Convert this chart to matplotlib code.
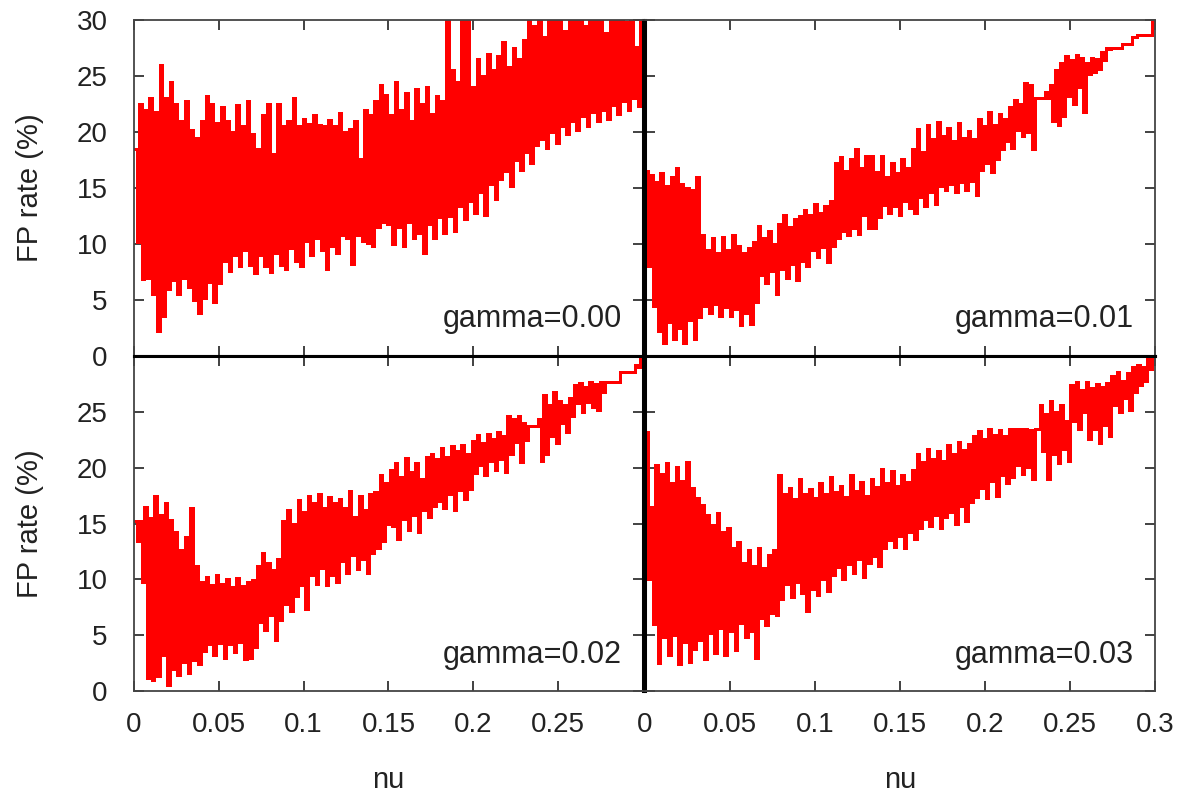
import numpy as np
import matplotlib
matplotlib.use('Agg')
import matplotlib.pyplot as plt

#%% data (upper / lower peaks of the noisy curve)

nu = np.linspace(0, 0.3, 200)
gammas = ['0.00', '0.01', '0.02', '0.03']

hi_g00 = [18.5, 22.5, 22.0, 23.0, 21.8, 26.0, 23.0, 24.5, 22.5, 21.0,
          22.8, 20.2, 19.5, 21.0, 23.2, 22.5, 20.8, 22.2, 21.0, 20.0,
          22.4, 20.5, 22.8, 19.8, 18.5, 21.5, 22.5, 18.0, 22.5, 20.5,
          21.0, 23.0, 20.5, 21.2, 20.7, 21.5, 20.6, 20.5, 21.1, 20.5,
          21.7, 20.0, 20.3, 21.0, 17.6, 22.0, 21.5, 22.8, 24.2, 23.3,
          21.5, 24.5, 22.0, 23.5, 21.0, 23.8, 22.5, 24.0, 21.6, 23.2,
          22.8, 31.0, 25.5, 24.5, 31.0, 30.5, 24.0, 26.5, 25.0, 27.0,
          25.5, 26.8, 28.0, 25.8, 27.5, 26.5, 28.2, 31.0, 29.5, 31.0,
          28.5, 31.0, 30.5, 31.0, 29.0, 31.0, 30.2, 31.0, 29.5, 31.0,
          30.5, 31.0, 28.8, 31.0, 30.0, 31.0, 29.8, 31.0, 27.6, 31.0]
lo_g00 = [10.2, 6.9, 7.0, 5.5, 2.2, 3.6, 6.0, 6.8, 5.5, 7.0,
          6.2, 5.0, 3.8, 5.2, 6.6, 4.8, 6.5, 8.5, 7.6, 9.0,
          8.0, 9.5, 8.1, 7.4, 9.0, 8.0, 7.5, 9.2, 8.1, 7.8,
          9.6, 8.5, 8.0, 10.3, 9.0, 10.5, 9.5, 7.8, 9.8, 9.2,
          10.8, 10.5, 8.2, 10.8, 10.3, 10.1, 9.8, 11.5, 12.0, 11.8,
          10.0, 11.5, 9.8, 12.0, 10.5, 11.0, 9.2, 11.8, 10.5, 12.4,
          11.0, 12.5, 11.2, 13.4, 12.2, 13.8, 12.8, 14.6, 12.6, 15.4,
          14.0, 15.8, 16.5, 15.2, 17.5, 16.6, 18.2, 17.2, 18.8, 19.4,
          18.6, 20.0, 19.0, 20.5, 19.8, 21.0, 20.2, 21.4, 20.5, 21.8,
          21.0, 22.0, 21.2, 22.4, 21.6, 22.8, 22.0, 23.0, 22.3, 22.6]

hi_g01 = [16.5, 16.2, 15.5, 16.3, 15.2, 16.0, 16.8, 15.4, 15.0, 14.8,
          16.0, 10.8, 9.5, 10.5, 9.2, 10.6, 9.5, 10.8, 9.8, 9.2,
          9.6, 10.2, 11.6, 10.5, 11.2, 10.0, 11.8, 12.6, 11.5, 12.2,
          12.5, 13.0, 12.6, 13.6, 12.8, 13.4, 13.8, 17.2, 17.8, 16.5,
          17.6, 18.5, 16.8, 17.9, 17.9, 16.4, 17.9, 16.0, 17.2, 16.3,
          17.6, 16.8, 18.5, 20.3, 18.2, 20.6, 19.4, 20.9, 19.6, 20.4,
          19.2, 20.8, 19.5, 20.1, 19.4, 21.2, 20.5, 21.8, 20.6, 21.6,
          21.2, 22.2, 22.9, 22.5, 24.4, 24.2, 23.0, 23.0, 23.6, 24.2,
          25.5, 26.2, 26.8, 26.4, 26.9, 26.6, 26.2, 26.6, 26.5, 27.1,
          27.5, 27.5, 27.5, 27.9, 27.9, 28.5, 28.7, 28.7, 28.7, 30.0]
lo_g01 = [8.0, 4.5, 2.2, 1.2, 3.0, 1.5, 2.5, 1.2, 3.2, 1.5,
          3.5, 4.5, 3.8, 4.6, 3.6, 4.4, 3.6, 4.2, 2.8, 3.8,
          2.9, 4.8, 7.2, 6.5, 7.6, 5.5, 7.8, 7.0, 8.2, 6.8,
          8.5, 8.0, 9.5, 8.8, 9.7, 8.4, 9.8, 10.5, 11.2, 10.8,
          11.4, 10.9, 12.6, 11.4, 11.4, 12.4, 13.5, 12.8, 13.4, 12.6,
          13.8, 13.2, 12.8, 14.2, 13.4, 14.6, 13.6, 15.2, 14.8, 15.4,
          14.6, 15.5, 14.8, 15.6, 14.4, 16.6, 17.2, 16.4, 17.6, 18.5,
          19.2, 18.6, 20.2, 19.6, 20.0, 18.5, 23.0, 23.0, 23.0, 21.0,
          20.6, 21.4, 23.2, 22.5, 24.0, 21.8, 25.2, 25.4, 25.6, 26.4,
          27.4, 27.5, 27.5, 27.9, 27.9, 28.5, 28.7, 28.7, 28.7, 29.5]

hi_g02 = [15.2, 15.2, 16.5, 15.5, 17.5, 15.8, 16.8, 15.3, 14.2, 12.6,
          13.8, 16.4, 11.2, 9.8, 10.2, 9.5, 10.4, 9.6, 10.0, 9.3,
          10.1, 9.4, 9.8, 9.9, 11.2, 12.4, 11.5, 10.8, 11.8, 15.2,
          16.2, 15.0, 17.1, 16.0, 17.5, 16.8, 17.6, 16.4, 17.4, 16.8,
          17.2, 16.4, 17.9, 15.6, 17.5, 16.2, 17.6, 17.8, 19.3, 18.6,
          19.8, 20.4, 19.2, 20.9, 19.6, 20.4, 19.0, 21.0, 21.2, 20.8,
          21.8, 21.0, 21.9, 21.5, 22.0, 21.2, 22.4, 22.9, 22.2, 23.0,
          22.6, 23.2, 22.8, 24.6, 24.4, 24.6, 24.0, 23.7, 23.7, 24.4,
          26.5, 25.6, 26.8, 26.0, 25.6, 26.2, 27.4, 27.6, 27.2, 27.7,
          27.5, 27.7, 27.7, 27.7, 27.7, 28.6, 28.6, 28.6, 29.2, 30.0]
lo_g02 = [13.4, 9.8, 1.2, 1.0, 1.3, 3.2, 0.5, 2.0, 1.4, 2.6,
          1.6, 2.8, 2.4, 3.6, 4.2, 3.2, 4.3, 3.0, 4.2, 3.5,
          4.4, 2.9, 3.0, 3.9, 6.2, 5.5, 6.8, 4.6, 6.4, 7.8,
          7.2, 8.5, 9.5, 7.3, 10.4, 9.6, 11.0, 9.5, 10.4, 9.8,
          11.6, 10.6, 12.2, 10.9, 11.8, 10.6, 12.4, 12.8, 13.4, 15.0,
          14.8, 13.6, 15.4, 14.4, 15.8, 14.2, 16.2, 15.6, 16.6, 17.0,
          16.4, 17.6, 16.2, 18.0, 17.2, 18.1, 19.5, 20.2, 19.3, 20.6,
          19.8, 20.8, 19.6, 21.2, 22.3, 20.5, 22.5, 23.7, 23.7, 20.6,
          21.2, 22.8, 22.2, 24.0, 23.2, 24.6, 25.8, 25.0, 25.9, 25.4,
          25.2, 26.8, 27.7, 27.7, 27.7, 28.6, 28.6, 28.6, 29.0, 30.0]

hi_g03 = [23.2, 16.5, 20.2, 19.4, 20.4, 18.6, 20.1, 18.8, 20.5, 18.2,
          17.3, 16.7, 15.8, 14.9, 15.9, 14.2, 14.6, 12.8, 13.3, 11.5,
          12.6, 11.2, 12.8, 11.0, 12.2, 12.6, 19.3, 17.6, 18.2, 17.2,
          19.0, 17.6, 18.1, 17.3, 18.6, 17.6, 19.2, 17.8, 18.4, 17.4,
          19.3, 17.9, 18.7, 17.5, 19.0, 18.3, 19.9, 18.6, 19.7, 18.4,
          19.3, 18.7, 19.8, 21.2, 20.5, 21.7, 20.8, 21.5, 20.6, 22.0,
          21.2, 22.3, 21.6, 22.1, 22.8, 23.3, 22.6, 23.5, 22.9, 23.4,
          22.8, 23.5, 23.5, 23.5, 23.5, 23.4, 23.5, 25.6, 24.8, 26.0,
          25.0, 25.6, 24.2, 27.4, 27.7, 27.0, 27.7, 27.1, 27.5, 27.2,
          27.6, 28.2, 28.6, 27.8, 28.5, 29.0, 29.2, 29.0, 30.0, 30.0]
lo_g03 = [10.0, 6.0, 2.5, 4.8, 3.2, 5.0, 2.4, 4.4, 2.6, 3.8,
          4.6, 2.9, 5.2, 3.4, 5.6, 3.2, 5.4, 3.7, 6.1, 4.8,
          5.4, 3.0, 6.5, 5.9, 7.0, 6.8, 8.2, 9.6, 8.4, 9.8,
          8.8, 7.2, 9.1, 8.6, 10.0, 9.0, 10.4, 11.1, 10.0, 11.4,
          10.6, 11.8, 10.2, 11.5, 12.1, 11.2, 12.8, 13.5, 12.9, 13.9,
          12.8, 14.2, 13.6, 14.6, 15.4, 14.8, 15.8, 14.6, 15.6, 16.0,
          15.0, 16.6, 15.2, 16.9, 17.4, 18.2, 17.3, 18.8, 17.5, 19.3,
          18.6, 19.2, 20.2, 19.4, 20.1, 19.0, 23.5, 21.5, 19.0, 21.2,
          20.4, 21.7, 20.6, 24.2, 23.5, 25.0, 22.6, 23.5, 22.2, 23.8,
          22.8, 25.6, 25.0, 26.2, 25.2, 26.8, 27.4, 27.8, 28.8, 30.0]

his = [hi_g00, hi_g01, hi_g02, hi_g03]
los = [lo_g00, lo_g01, lo_g02, lo_g03]

#%% figure

plt.rcParams['font.family'] = ['Liberation Sans', 'DejaVu Sans']
plt.rcParams['text.color'] = '#222222'
plt.rcParams['path.simplify'] = False

W, H = 1179, 797
fig = plt.figure(figsize=(W / 100, H / 100), dpi=100)

# pixel boxes: (left, right, top, bottom)
boxes = [(134, 643, 20, 356), (645, 1155, 20, 356),
         (134, 643, 356, 691), (645, 1155, 356, 691)]

for i, (l, r, t, b) in enumerate(boxes):
    ax = fig.add_axes([l / W, 1 - b / H, (r - l) / W, (b - t) / H])
    y = np.column_stack([his[i], los[i]]).ravel()
    ax.plot(nu, y, color='#ff0000', lw=1.8, drawstyle='steps-post',
            antialiased=False)
    ax.set_xlim(0, 0.3)
    ax.set_ylim(0, 30)
    ax.set_xticks([0, 0.05, 0.1, 0.15, 0.2, 0.25, 0.3])
    ax.set_yticks([0, 5, 10, 15, 20, 25, 30])
    ax.tick_params(direction='in', top=True, right=True, length=7,
                   width=1.3, color='#333333', labelsize=20,
                   labelcolor='#222222')
    ax.tick_params(axis='x', pad=15)
    ax.tick_params(axis='y', pad=19)

    top_row = i < 2
    left_col = i % 2 == 0

    if top_row:
        ax.set_xticklabels([])
    elif left_col:
        ax.set_xticklabels(['0', '0.05', '0.1', '0.15', '0.2', '0.25', ''])
    else:
        ax.set_xticklabels(['0', '0.05', '0.1', '0.15', '0.2', '0.25', '0.3'])

    if not left_col:
        ax.set_yticklabels([])
    elif not top_row:
        ax.set_yticklabels(['0', '5', '10', '15', '20', '25', ''])

    for s in ax.spines.values():
        s.set_color('#444444')
        s.set_linewidth(1.3)
    # shared borders in the middle are drawn heavier
    inner = ['bottom' if top_row else 'top', 'right' if left_col else 'left']
    for s in inner:
        ax.spines[s].set_color('black')
        ax.spines[s].set_linewidth(2.2)

    ax.text(0.958, 0.085, 'gamma=' + gammas[i], transform=ax.transAxes,
            ha='right', va='baseline', fontsize=22, color='#222222')

fig.text(30 / W, 1 - 188 / H, 'FP rate (%)', rotation=90, ha='center',
         va='center', fontsize=21)
fig.text(30 / W, 1 - 524 / H, 'FP rate (%)', rotation=90, ha='center',
         va='center', fontsize=21)
fig.text(388 / W, 1 - 780 / H, 'nu', ha='center', va='center', fontsize=21)
fig.text(900 / W, 1 - 780 / H, 'nu', ha='center', va='center', fontsize=21)

fig.savefig('out.png', dpi=100)
